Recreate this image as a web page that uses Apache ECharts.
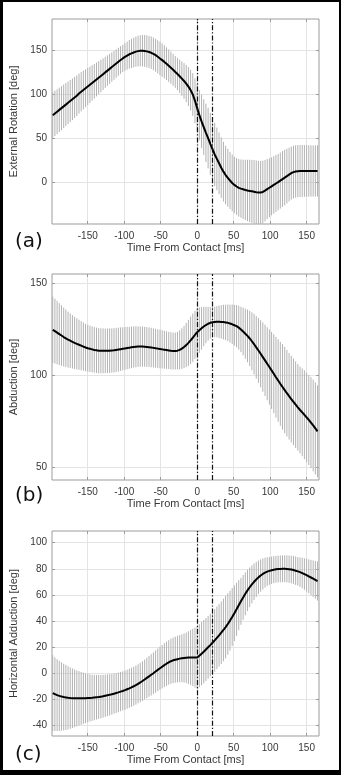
<!DOCTYPE html>
<html>
<head>
<meta charset="utf-8">
<script src="https://cdn.jsdelivr.net/npm/echarts@6/dist/echarts.min.js"></script>
<style>
  html, body { margin: 0; padding: 0; background: #fff; }
  #chart { width: 341px; height: 775px; }
</style>
</head>
<body>
<div id="chart"></div>
<script>
// Sample times relative to ball contact [ms]
const timeMs = [
  -198,-195,-192,-189,-186,-183,-180,-177,-174,-171,-168,-165,-162,-159,-156,-153,-150,-147,-144,-141,
  -138,-135,-132,-129,-126,-123,-120,-117,-114,-111,-108,-105,-102,-99,-96,-93,-90,-87,-84,-81,
  -78,-75,-72,-69,-66,-63,-60,-57,-54,-51,-48,-45,-42,-39,-36,-33,-30,-27,-24,-21,
  -18,-15,-12,-9,-6,-3,0,3,6,9,12,15,18,21,24,27,30,33,36,39,
  42,45,48,51,54,57,60,63,66,69,72,75,78,81,84,87,90,93,96,99,
  102,105,108,111,114,117,120,123,126,129,132,135,138,141,144,147,150,153,156,159,
  162,165
];

// (a) External rotation: mean and standard deviation [deg]
const erMean = [
  76,78,80,82,84,86,88,90,92,94,96,98,100.5,102.5,104.5,106.5,108.5,110.5,112.5,114.5,
  116.5,118.5,120.5,122.5,124.5,126.5,128.5,130.5,132.5,134.5,136.5,138.5,140.3,142,143.5,145,146,147,148,148.6,
  149,149,148.8,148.3,147.6,146.7,145.5,144,142.2,140.3,138.4,136.4,134.3,132.1,129.8,127.4,125,122.6,120.1,117.5,
  114.8,111.8,108.4,104.4,99.4,92.3,84,76,69,62.5,56,50,43.5,37.5,31.5,26.5,21.5,16.5,12,8.2,
  5,2,-0.8,-3,-4.8,-6.3,-7.2,-8,-8.7,-9.3,-9.8,-10.3,-10.8,-11.3,-11.7,-11.6,-11,-9.5,-7.8,-6.2,
  -4.6,-3,-1.4,0.2,1.9,3.6,5.3,7,8.7,10.3,11.5,12.2,12.5,12.7,12.8,12.8,12.8,12.8,12.8,12.8,
  12.8,12.8
];
const erSd = [
  26,25.7,25.4,25.2,25,24.7,24.5,24.2,23.9,23.6,23.3,23,22.7,22.3,21.9,21.5,21,20.6,20.1,19.6,
  19.2,18.8,18.4,18,17.6,17.3,17,16.7,16.4,16.1,15.9,15.7,15.5,15.6,15.9,16.2,16.5,16.8,17.1,17.4,
  17.6,17.8,18,18.1,18.2,18.4,18.5,18.7,18.8,19,18.9,18.8,18.6,18.4,18.2,18.1,18,18.3,18.8,19.4,
  20.2,21,22,23,24.2,25.5,27,28.5,30,31.5,33,34.3,35.3,36,35.8,35.4,35,34.4,33.8,33.2,
  32.8,32.4,32.1,32,32.2,32.6,33,33.6,34.2,34.8,35.3,35.7,36,36,36,35.8,35.5,34.8,34,33.3,
  32.9,32.6,32.2,31.9,31.7,31.6,31.5,31,30.5,30.1,29.9,29.7,29.6,29.5,29.4,29.3,29.2,29.1,29,29,
  29,29
];

// (b) Abduction: mean and standard deviation [deg]
const abMean = [
  124.7,124,123.2,122.4,121.6,120.8,120.1,119.4,118.8,118.2,117.6,117.1,116.6,116.1,115.6,115.1,114.7,114.4,114.1,113.8,
  113.6,113.4,113.3,113.3,113.3,113.3,113.4,113.5,113.6,113.8,114,114.2,114.4,114.6,114.8,115,115.2,115.4,115.5,115.6,
  115.6,115.6,115.5,115.4,115.3,115.1,114.9,114.7,114.5,114.3,114.1,113.9,113.7,113.5,113.3,113.2,113.2,113.4,113.8,114.5,
  115.4,116.4,117.6,119,120.4,121.9,123.4,124.5,125.5,126.5,127.3,128,128.5,128.8,129,129.1,129.1,129,128.9,128.7,
  128.5,128.1,127.7,127.2,126.7,125.9,124.9,123.8,122.6,121.4,120,118.5,116.9,115.2,113.5,111.7,109.9,108.1,106.3,104.5,
  102.7,100.9,99,97.2,95.4,93.7,92,90.3,88.7,87.1,85.6,84.1,82.6,81.2,79.9,78.6,77.2,75.8,74.3,72.8,
  71.2,69.6
];
const abSd = [
  18,17.6,17.2,16.8,16.4,16,15.6,15.2,14.8,14.5,14.2,13.9,13.6,13.3,13.1,12.9,12.7,12.6,12.5,12.4,
  12.3,12.3,12.2,12.2,12.1,12.1,12.1,12,12,12,11.9,11.8,11.7,11.6,11.5,11.4,11.3,11.2,11.1,11,
  10.9,10.9,10.8,10.8,10.7,10.7,10.6,10.6,10.5,10.5,10.4,10.3,10.2,10.1,10.1,10,10,10.2,10.6,11,
  11.5,12,12.5,12.9,13.1,13.1,13,12.3,11.5,10.7,9.9,9.2,8.6,8.3,8.3,8.5,8.8,9.1,9.4,9.6,
  9.9,10.3,10.7,11.1,11.5,11.9,12.3,12.9,13.6,14.3,15,15.7,16.4,17,17.6,18.2,18.8,19.3,19.8,20.4,
  20.9,21.4,21.9,22.4,22.8,23.2,23.5,23.5,23.5,23.5,23.5,23.5,23.5,23.6,23.8,24.1,24.3,24.5,24.7,24.9,
  25,25
];

// (c) Horizontal adduction: mean and standard deviation [deg]
const haMean = [
  -15.5,-16.3,-17,-17.6,-18.1,-18.5,-18.8,-19.1,-19.3,-19.4,-19.5,-19.5,-19.5,-19.5,-19.4,-19.4,-19.3,-19.2,-19.1,-18.9,
  -18.7,-18.5,-18.2,-17.9,-17.5,-17.1,-16.8,-16.4,-15.9,-15.4,-14.9,-14.3,-13.8,-13.2,-12.5,-11.8,-11,-10.2,-9.3,-8.3,
  -7.3,-6.2,-5,-3.8,-2.6,-1.4,-0.2,1.1,2.4,3.6,4.8,6,7.1,8.1,9,9.7,10.2,10.6,11,11.3,
  11.5,11.7,11.8,11.9,11.9,11.8,11.8,13.3,14.8,16.3,18,19.7,21.4,23.2,25,27,28.9,30.9,33,35.2,
  37.6,40.2,43,45.9,48.9,52,55,58,60.8,63.4,65.8,68,70,71.8,73.4,74.8,76,77,77.8,78.4,
  78.9,79.3,79.6,79.8,79.9,80,80,79.9,79.7,79.4,79,78.5,78,77.4,76.7,75.9,75.1,74.2,73.3,72.4,
  71.5,70.6
];
const haSd = [
  29,28.3,27.6,27,26.3,25.6,25,24.3,23.6,22.9,22.2,21.5,20.9,20.3,19.7,19.1,18.6,18.1,17.7,17.4,
  17.1,16.9,16.6,16.4,16.2,16,15.8,15.6,15.4,15.3,15.2,15.1,15,15,15,15,15,15,15,15,
  15.1,15.2,15.3,15.5,15.7,15.9,16,16.2,16.4,16.6,16.7,16.9,17,17.1,17.3,17.5,17.7,17.9,18.1,18.4,
  18.8,19.4,20.2,21.1,22,23,24,24.2,24.3,24.3,24.2,24.1,24,24,24,24,24,24,24,24,
  23.6,23,22.2,21.4,20.4,19.2,18,17.2,16.5,15.8,15.2,14.6,14,13.4,12.9,12.4,12,11.5,11.1,10.7,
  10.5,10.4,10.3,10.3,10.3,10.3,10.3,10.4,10.5,10.6,10.8,10.9,11,11.3,11.7,12.1,12.6,13,13.5,14,
  14.5,15
];

// Tick labels and event markers
const xTicks = [-150, -100, -50, 0, 50, 100, 150];
const erTicks = [0, 50, 100, 150];
const abTicks = [50, 100, 150];
const haTicks = [-40, -20, 0, 20, 40, 60, 80, 100];
const eventMs = [0, 20];            // ball contact and end of impact window
const panelLetters = ['(a)', '(b)', '(c)'];
const yTitles = ['External Rotation [deg]', 'Abduction [deg]', 'Horizontal Adduction [deg]'];
const xTitle = 'Time From Contact [ms]';

const panels = [
  { mean: erMean, sd: erSd, ticks: erTicks, min: -47.3, max: 185, top: 19, height: 205, letterY: 243 },
  { mean: abMean, sd: abSd, ticks: abTicks, min: 43.2, max: 155, top: 274, height: 206, letterY: 497 },
  { mean: haMean, sd: haSd, ticks: haTicks, min: -48.4, max: 109, top: 531, height: 205, letterY: 756 }
];

const FONT = '"Liberation Sans", Arial, Helvetica, sans-serif';
const TEXT = '#383838';
const GRIDLINE = '#e4e4e4';
const BOX = '#9c9c9c';

const grids = [], xAxes = [], yAxes = [], series = [];

function tickStyle(values) {
  return { show: true, inside: true, length: 3, customValues: values, lineStyle: { color: BOX } };
}

panels.forEach((p, i) => {
  grids.push({
    left: 52, top: p.top, width: 267, height: p.height,
    show: true, borderColor: BOX, borderWidth: 1, backgroundColor: '#fff',
    outerBoundsMode: 'none', containLabel: false
  });

  // bottom x axis with labels and title
  xAxes.push({
    gridIndex: i, type: 'value', min: -199, max: 167, position: 'bottom',
    name: xTitle, nameLocation: 'middle', nameGap: 18,
    nameTextStyle: { fontFamily: FONT, fontSize: 11, color: TEXT },
    axisLine: { show: false, onZero: false },
    axisTick: tickStyle(xTicks),
    axisLabel: { customValues: xTicks, fontFamily: FONT, fontSize: 10, color: TEXT, margin: 7 },
    splitLine: { show: true, lineStyle: { color: GRIDLINE, width: 1 } }
  });
  // top x axis: mirrored ticks only
  xAxes.push({
    gridIndex: i, type: 'value', min: -199, max: 167, position: 'top',
    axisLine: { show: false, onZero: false },
    axisTick: tickStyle(xTicks),
    axisLabel: { show: false, customValues: xTicks },
    splitLine: { show: false }
  });

  yAxes.push({
    gridIndex: i, type: 'value', min: p.min, max: p.max, position: 'left',
    name: yTitles[i], nameLocation: 'middle', nameGap: 21, nameRotate: 90,
    nameTextStyle: { fontFamily: FONT, fontSize: 11, color: TEXT },
    axisLine: { show: false, onZero: false },
    axisTick: tickStyle(p.ticks),
    axisLabel: { customValues: p.ticks, fontFamily: FONT, fontSize: 10, color: TEXT, margin: 5 },
    splitLine: { show: true, lineStyle: { color: GRIDLINE, width: 1 } }
  });
  yAxes.push({
    gridIndex: i, type: 'value', min: p.min, max: p.max, position: 'right',
    axisLine: { show: false, onZero: false },
    axisTick: tickStyle(p.ticks),
    axisLabel: { show: false, customValues: p.ticks },
    splitLine: { show: false }
  });

  const xi = i * 2, yi = i * 2;

  // ±1 SD error bars at every sample
  series.push({
    type: 'custom',
    xAxisIndex: xi, yAxisIndex: yi,
    silent: true, z: 2,
    data: timeMs.map((t, k) => [t, p.mean[k] - p.sd[k], p.mean[k] + p.sd[k]]),
    encode: { x: 0, y: [1, 2] },
    renderItem(params, api) {
      const cs = params.coordSys;
      const lo = api.coord([api.value(0), api.value(1)]);
      const hi = api.coord([api.value(0), api.value(2)]);
      const clampY = (y) => Math.max(cs.y, Math.min(cs.y + cs.height, y));
      return {
        type: 'line',
        shape: { x1: lo[0], y1: clampY(lo[1]), x2: hi[0], y2: clampY(hi[1]) },
        style: { stroke: '#b2b2b2', lineWidth: 1 }
      };
    }
  });

  // mean curve with event markers
  series.push({
    type: 'line',
    xAxisIndex: xi, yAxisIndex: yi,
    data: timeMs.map((t, k) => [t, p.mean[k]]),
    showSymbol: false, symbol: 'none', smooth: false,
    lineStyle: { color: '#000', width: 2 },
    z: 4, silent: true, animation: false,
    markLine: {
      silent: true, symbol: 'none', animation: false,
      label: { show: false },
      lineStyle: { color: '#111', width: 1.2, type: [5, 2, 1.2, 2] },
      data: eventMs.map((v) => ({ xAxis: v }))
    }
  });
});

const graphics = panels.map((p, i) => ({
  type: 'text', left: 15, top: p.letterY - 11,
  style: { text: panelLetters[i], font: '20px "DejaVu Sans", sans-serif', fill: '#111' }
}));
// outer black frame
graphics.push(
  { type: 'rect', shape: { x: 0, y: 0, width: 341, height: 2 }, style: { fill: '#000' } },
  { type: 'rect', shape: { x: 0, y: 770, width: 341, height: 5 }, style: { fill: '#000' } },
  { type: 'rect', shape: { x: 0, y: 0, width: 3, height: 775 }, style: { fill: '#000' } },
  { type: 'rect', shape: { x: 339, y: 0, width: 2, height: 775 }, style: { fill: '#000' } }
);

const chart = echarts.init(document.getElementById('chart'), null, { renderer: 'canvas' });
chart.setOption({
  animation: false,
  backgroundColor: '#fff',
  grid: grids,
  xAxis: xAxes,
  yAxis: yAxes,
  series: series,
  graphic: graphics
});
</script>
</body>
</html>
